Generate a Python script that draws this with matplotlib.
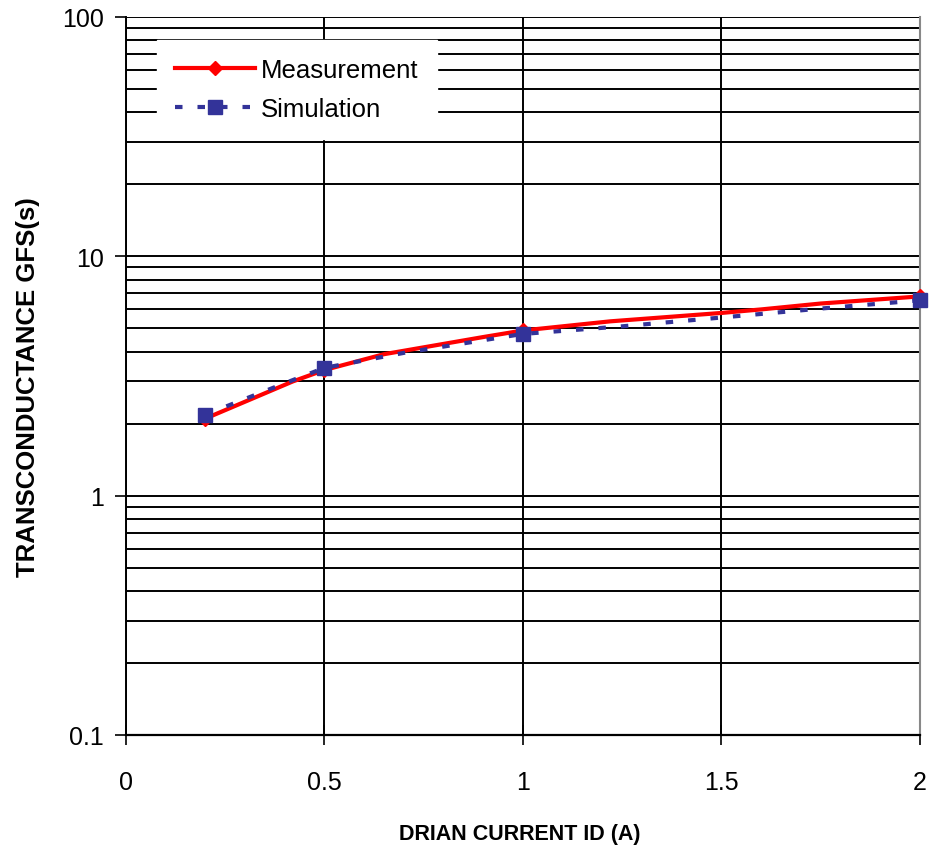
import matplotlib.pyplot as plt
from matplotlib.ticker import FixedLocator, NullFormatter

plt.rcParams["font.family"] = ["Liberation Sans", "DejaVu Sans"]

meas_id = [0.2, 0.42, 0.5, 0.65, 0.9, 1.0, 1.22, 1.5, 1.6, 1.75, 2.0]
meas_gfs = [2.1, 3.0, 3.35, 3.9, 4.6, 4.9, 5.35, 5.8, 6.0, 6.35, 6.8]
meas_marks = [0, 2, 5, 10]

# Simulation curve
sim_id = [0.2, 0.4, 0.5, 0.7, 1.0, 1.25, 1.5, 1.75, 2.0]
sim_gfs = [2.18, 2.95, 3.42, 3.95, 4.74, 5.1, 5.55, 6.05, 6.55]
sim_marks = [0, 2, 4, 8]

x_ticks = [0, 0.5, 1, 1.5, 2]
x_tick_labels = ["0", "0.5", "1", "1.5", "2"]
y_ticks = [0.1, 1, 10, 100]
y_tick_labels = ["0.1", "1", "10", "100"]

fig = plt.figure(figsize=(9.32, 8.53), dpi=100)
ax = fig.add_axes([0.1352, 0.1372, 0.9871 - 0.1352, 0.9789 - 0.1372])

ax.set_yscale("log")
ax.set_xlim(0, 2)
ax.set_ylim(0.1, 100)

minor = [m * 10.0 ** e for e in (-1, 0, 1) for m in range(2, 10)]
ax.yaxis.set_major_locator(FixedLocator(y_ticks))
ax.yaxis.set_minor_locator(FixedLocator(minor))
ax.yaxis.set_minor_formatter(NullFormatter())
ax.set_yticks(y_ticks)
ax.set_yticklabels(y_tick_labels)
ax.set_xticks(x_ticks)
ax.set_xticklabels(x_tick_labels)

ax.grid(True, which="major", axis="both", color="black", lw=1.4)
ax.grid(True, which="minor", axis="y", color="black", lw=1.4)
ax.set_axisbelow(True)

ax.tick_params(axis="x", which="major", direction="inout", length=14, width=1.2,
               labelsize=18, pad=18)
ax.tick_params(axis="y", which="major", direction="out", length=8, width=1.2,
               labelsize=18, pad=8)
ax.tick_params(axis="y", which="minor", length=0)

ax.spines["top"].set_visible(False)
ax.spines["right"].set_color("#888888")
ax.spines["right"].set_linewidth(1.5)
ax.spines["left"].set_linewidth(1.4)
ax.spines["bottom"].set_linewidth(1.6)

ax.plot(meas_id, meas_gfs, color="#ff0000", lw=3, marker="D", ms=7,
        markevery=meas_marks, label="Measurement", zorder=3, clip_on=False)
ax.plot(sim_id, sim_gfs, color="#333399", lw=3, ls=(0, (1.8, 3.6)), marker="s",
        ms=10, markevery=sim_marks, label="Simulation", zorder=4, clip_on=False)

leg = ax.legend(loc="upper left", bbox_to_anchor=(0.039, 0.968), fontsize=18.5,
                frameon=True, fancybox=False, edgecolor="white", framealpha=1,
                handlelength=3.1, labelspacing=0.6, borderpad=0.7,
                handletextpad=0.25, borderaxespad=0)

label_font = {"weight": "bold"}
ax.set_xlabel("DRIAN CURRENT ID (A)", fontsize=15.5, fontdict=label_font)
ax.set_ylabel("TRANSCONDUCTANCE GFS(s)", fontsize=18.5, fontdict=label_font)
ax.xaxis.set_label_coords(0.4956, -0.1226)
ax.yaxis.set_label_coords(-0.108, 0.486)

fig.savefig("out.png", dpi=100)
